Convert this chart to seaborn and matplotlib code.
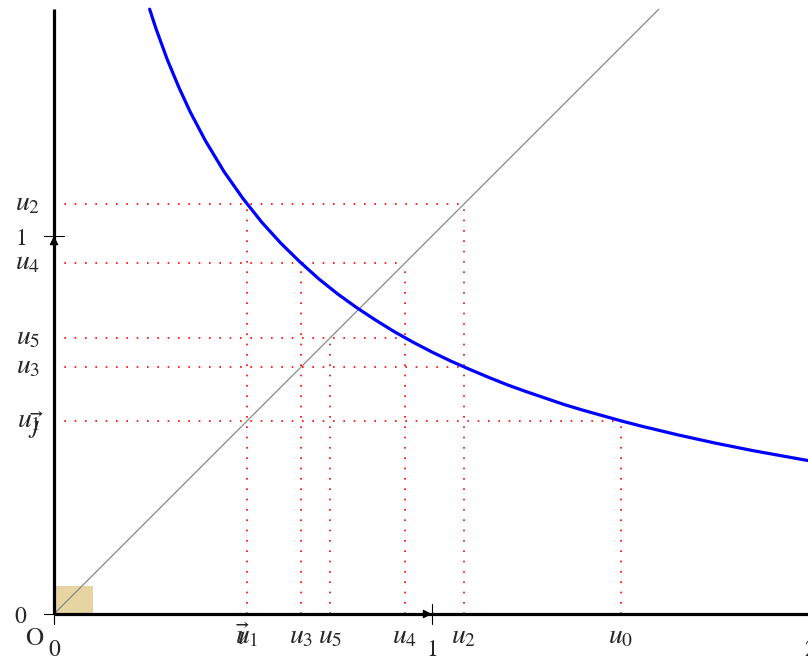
import matplotlib
matplotlib.use("Agg")
import matplotlib.pyplot as plt
import seaborn as sns
from matplotlib.patches import Rectangle

# ---- data ----
# curve y = f(x)
curve_x = [0.253, 0.27, 0.30, 0.33, 0.36, 0.40, 0.45, 0.50, 0.55, 0.60, 0.65, 0.70,
           0.75, 0.80, 0.85, 0.90, 0.95, 1.00, 1.05, 1.10, 1.15, 1.20, 1.25, 1.30,
           1.35, 1.40, 1.45, 1.50, 1.55, 1.60, 1.65, 1.70, 1.75, 1.80, 1.85, 1.90,
           1.95, 2.00]
curve_y = [1.600, 1.548, 1.466, 1.394, 1.329, 1.253, 1.170, 1.099, 1.036, 0.981, 0.932, 0.887,
           0.847, 0.811, 0.778, 0.747, 0.719, 0.693, 0.669, 0.647, 0.626, 0.606, 0.588, 0.571,
           0.554, 0.539, 0.525, 0.511, 0.498, 0.486, 0.474, 0.463, 0.452, 0.442, 0.432, 0.423,
           0.414, 0.405]

# sequence terms u_0 .. u_5
u_values = [1.5, 0.511, 1.084, 0.654, 0.928, 0.731]
u_names = [r"$u_0$", r"$u_1$", r"$u_2$", r"$u_3$", r"$u_4$", r"$u_5$"]

# window / axes
x_max = 2.0
y_max = 1.6
x_ticks = [0, 1, 2]
x_tick_labels = ["0", "1", "2"]
y_ticks = [0, 1]
y_tick_labels = ["0", "1"]

# ---- style ----
sns.set_theme(style="white")
plt.rcParams["font.family"] = ["STIXGeneral", "DejaVu Serif"]
plt.rcParams["mathtext.fontset"] = "stix"
FS = 17      # digits / O
FS_U = 20    # u_n labels and vectors

fig = plt.figure(figsize=(8.08, 6.60), dpi=100)
ax = fig.add_axes([0, 0, 1, 1])
ax.set_xlim(-54 / 378, 754 / 378)
ax.set_ylim(-46 / 378, 614 / 378)
ax.set_aspect("equal")
ax.axis("off")

# tan unit square
ax.add_patch(Rectangle((0, 0), 0.103, 0.074, facecolor="#E6D4A2", edgecolor="none", zorder=1))

# diagonal y = x
sns.lineplot(x=[0, y_max], y=[0, y_max], ax=ax, color="#808080", lw=0.8, zorder=2)

# red dotted cobweb lines
red_kw = dict(color="red", lw=1.2, linestyle=(0, (1, 5.2)), zorder=3)
n = len(u_values)
for k in range(n):
    # vertical at x = u_k : up to curve point (u_k, u_{k+1}) and diagonal (u_k, u_k)
    tops = []
    if k + 1 < n:
        tops.append(u_values[k + 1])
    if k >= 1:
        tops.append(u_values[k])
    ax.plot([u_values[k], u_values[k]], [0, max(tops)], **red_kw)
    # horizontal at y = u_k : to curve point (u_{k-1}, u_k) and diagonal (u_k, u_k)
    if k >= 1:
        right = max(u_values[k - 1], u_values[k])
        ax.plot([0, right], [u_values[k], u_values[k]], **red_kw)

# blue curve
sns.lineplot(x=curve_x, y=curve_y, ax=ax, color="blue", lw=2.3, sort=False, zorder=4)

# thick axes
ax.plot([0, x_max], [0, 0], color="black", lw=2.3, solid_capstyle="butt", zorder=5)
ax.plot([0, 0], [0, y_max], color="black", lw=2.3, solid_capstyle="butt", zorder=5)

# tick crosses
t = 0.027
ax.plot([-t, 0], [0, 0], color="black", lw=0.8, zorder=6)
ax.plot([0, 0], [-t, 0], color="black", lw=0.8, zorder=6)
ax.plot([-t, t], [1, 1], color="black", lw=0.8, zorder=6)
ax.plot([1, 1], [-t, t], color="black", lw=0.8, zorder=6)

# unit vectors
arr = dict(arrowstyle="-|>", lw=0.9, color="black", mutation_scale=13,
           shrinkA=0, shrinkB=0)
ax.annotate("", xy=(1, 0), xytext=(0, 0), arrowprops=arr, zorder=7)
ax.annotate("", xy=(0, 1), xytext=(0, 0), arrowprops=arr, zorder=7)

# ---- labels ----
for val, name in zip(u_values, u_names):
    # x-axis label
    ax.text(val, -0.077, name, ha="center", va="baseline", fontsize=FS_U, zorder=8)
    # y-axis label
    if val <= y_max and name != r"$u_0$":
        ax.text(-0.037, val - 0.017, name, ha="right", va="baseline", fontsize=FS_U, zorder=8)

ax.text(-0.087, 0.976, y_tick_labels[1], ha="center", va="baseline", fontsize=FS)
ax.text(-0.09, -0.024, y_tick_labels[0], ha="center", va="baseline", fontsize=FS)
for xv, lab in zip(x_ticks, x_tick_labels):
    ax.text(xv, -0.111, lab, ha="center", va="baseline", fontsize=FS)
ax.text(-0.053, -0.082, "O", ha="center", va="baseline", fontsize=FS + 1)
ax.text(0.5, -0.063, r"$\vec{\imath}$", ha="center", va="center", fontsize=FS_U)
ax.text(-0.048, 0.5, r"$\vec{\jmath}$", ha="center", va="center", fontsize=FS_U)

fig.savefig("out.png", dpi=100)
